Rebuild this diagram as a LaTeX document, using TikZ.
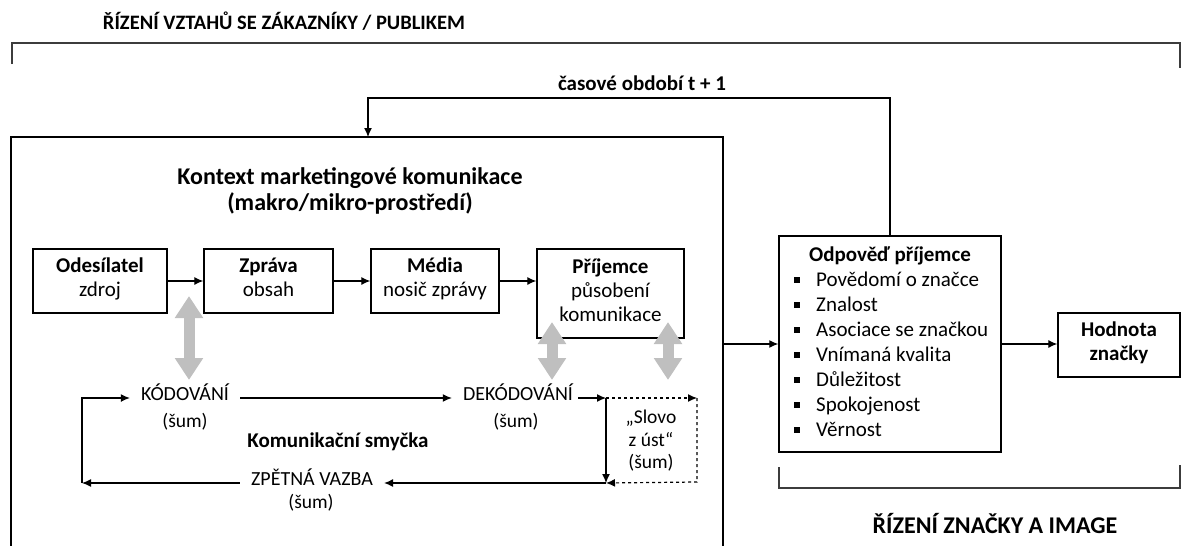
\documentclass[tikz,border=0pt]{standalone}
\usepackage{fontspec}
\setmainfont{Carlito}
\usetikzlibrary{arrows.meta}

\definecolor{loopgray}{RGB}{191,191,191}
\definecolor{framegray}{RGB}{60,60,60}
\newcommand{\bulletbox}{\rule[0.16em]{6pt}{6pt}}

\begin{document}
\begin{tikzpicture}[
  x=1pt, y=-1pt,
  box/.style={draw, line width=1.3pt, align=center, inner sep=0pt, font=\fontsize{21}{24}\selectfont,
    execute at begin node=\strut, execute at end node=\strut},
  flow/.style={line width=1.2pt, -{Latex[length=9pt, width=8pt]}},
  stage/.style={font=\fontsize{20}{22.5}\selectfont, align=center, inner xsep=11pt, inner ysep=0pt, text height=1.5ex, text depth=.25ex},
  noise/.style={font=\fontsize{19.5}{22.5}\selectfont, align=center},
  twoway/.style={loopgray, line width=11pt, {Triangle[length=22pt, width=27pt]}-{Triangle[length=22pt, width=27pt]}},
  heading/.style={font=\fontsize{24}{26}\selectfont\bfseries, anchor=base}
]
\useasboundingbox (0,0) rectangle (1181,546);

% outer brackets and titles
\node[heading, font=\fontsize{20.5}{24}\selectfont\bfseries] (crmTitle) at (284,29) {ŘÍZENÍ VZTAHŮ SE ZÁKAZNÍKY / PUBLIKEM};
\draw[framegray, line width=1.3pt] (12,64) -- (12,43) -- (1180,43) -- (1180,68);
\node[heading] (brandTitle) at (995,533) {ŘÍZENÍ ZNAČKY A IMAGE};
\draw[framegray, line width=1.3pt] (779,467) -- (779,488) -- (1180,488) -- (1180,465);

% context frame
\draw[line width=2pt] (11,546) -- (11,137) -- (723,137) -- (723,546);
\coordinate (ctxTop) at (368,137);
\coordinate (ctxRight) at (723,344);
\node[heading, align=center, anchor=north, inner sep=0pt] (ctxTitle) at (350,167) {Kontext marketingové komunikace\\(makro/mikro-prostředí)};

% communication chain
\node[box, minimum width=134pt, minimum height=64pt] (sender) at (100,281) {\textbf{Odesílatel}\\zdroj};
\node[box, minimum width=129pt, minimum height=64pt] (message) at (268.5,281) {\textbf{Zpráva}\\obsah};
\node[box, minimum width=128pt, minimum height=64pt] (media) at (435,281) {\textbf{Média}\\nosič zprávy};
\node[box, minimum width=147pt, minimum height=89pt] (receiver) at (610.5,293.5) {\textbf{Příjemce}\\působení\\komunikace};

\draw[flow] (sender) -- (message);
\draw[flow] (message) -- (media);
\draw[flow] (media.east) -- (media.east -| receiver.west);

% communication loop
\node[stage] (encode) at (185,398) {KÓDOVÁNÍ};
\node[noise] (encodeNoise) at (185,422) {(šum)};
\node[stage] (decode) at (518,398) {DEKÓDOVÁNÍ};
\node[noise] (decodeNoise) at (516,422) {(šum)};
\node[stage] (feedback) at (312,483) {ZPĚTNÁ VAZBA};
\node[noise] (feedbackNoise) at (311,503) {(šum)};
\node[noise] (wom) at (651,441) {„Slovo\\z úst“\\(šum)};
\node[font=\fontsize{21}{24}\selectfont\bfseries] (loopLabel) at (338,442) {Komunikační smyčka};

\coordinate (womTL) at (606,398);
\coordinate (womTR) at (697,398);
\coordinate (womBR) at (697,482);
\coordinate (womBL) at (606,483);
\coordinate (loopL) at (82,483);

\draw[flow] (encode) -- (decode);
\draw[flow, shorten <=-6pt] (decode.east) -- (womTL);
\draw[flow] (womTL) -- (womBL);
\draw[flow, dashed] (womTL) -- (womTR);
\draw[flow, dashed] (womTR) -- (womBR) -- (womBL);
\draw[flow] (womBL) -- (feedback);
\draw[flow] (feedback) -- (loopL);
\draw[flow] (loopL) |- (encode);

% noise interference
\coordinate (encTop) at (189,296);
\coordinate (encBot) at (189,380);
\coordinate (decTop) at (552,322);
\coordinate (decBot) at (552,380);
\coordinate (womTop) at (668,322);
\coordinate (womBot) at (668,380);
\draw[twoway] (encTop) -- (encBot);
\draw[twoway] (decTop) -- (decBot);
\draw[twoway] (womTop) -- (womBot);

% response and brand value
\node[box, line width=1.4pt, minimum width=222pt, minimum height=216pt, execute at begin node={}, execute at end node={}] (response) at (890,344) {};
\node[font=\fontsize{21}{24}\selectfont\bfseries] (responseTitle) at (890,256) {Odpověď příjemce};
\node[anchor=north west, inner sep=0pt, font=\fontsize{21}{25}\selectfont] (responseItems) at (794,268.5) {%
  \begin{tabular}{@{}l@{\hspace{16pt}}l@{}}
    \bulletbox & Povědomí o značce\\
    \bulletbox & Znalost\\
    \bulletbox & Asociace se značkou\\
    \bulletbox & Vnímaná kvalita\\
    \bulletbox & Důležitost\\
    \bulletbox & Spokojenost\\
    \bulletbox & Věrnost
  \end{tabular}};
\node[box, minimum width=122pt, minimum height=64pt, font=\fontsize{21}{24}\selectfont\bfseries] (equity) at (1119,345) {Hodnota\\značky};

\draw[flow] (ctxRight) -- (response.west);
\draw[flow] (response.east) -- (response.east -| equity.west);

% next period
\coordinate (loopBack) at (368,98);
\node[font=\fontsize{21}{24}\selectfont\bfseries, anchor=base] (period) at (642,90) {časové období t + 1};
\draw[flow] (response.north) |- (loopBack) -- (ctxTop);

\end{tikzpicture}
\end{document}
